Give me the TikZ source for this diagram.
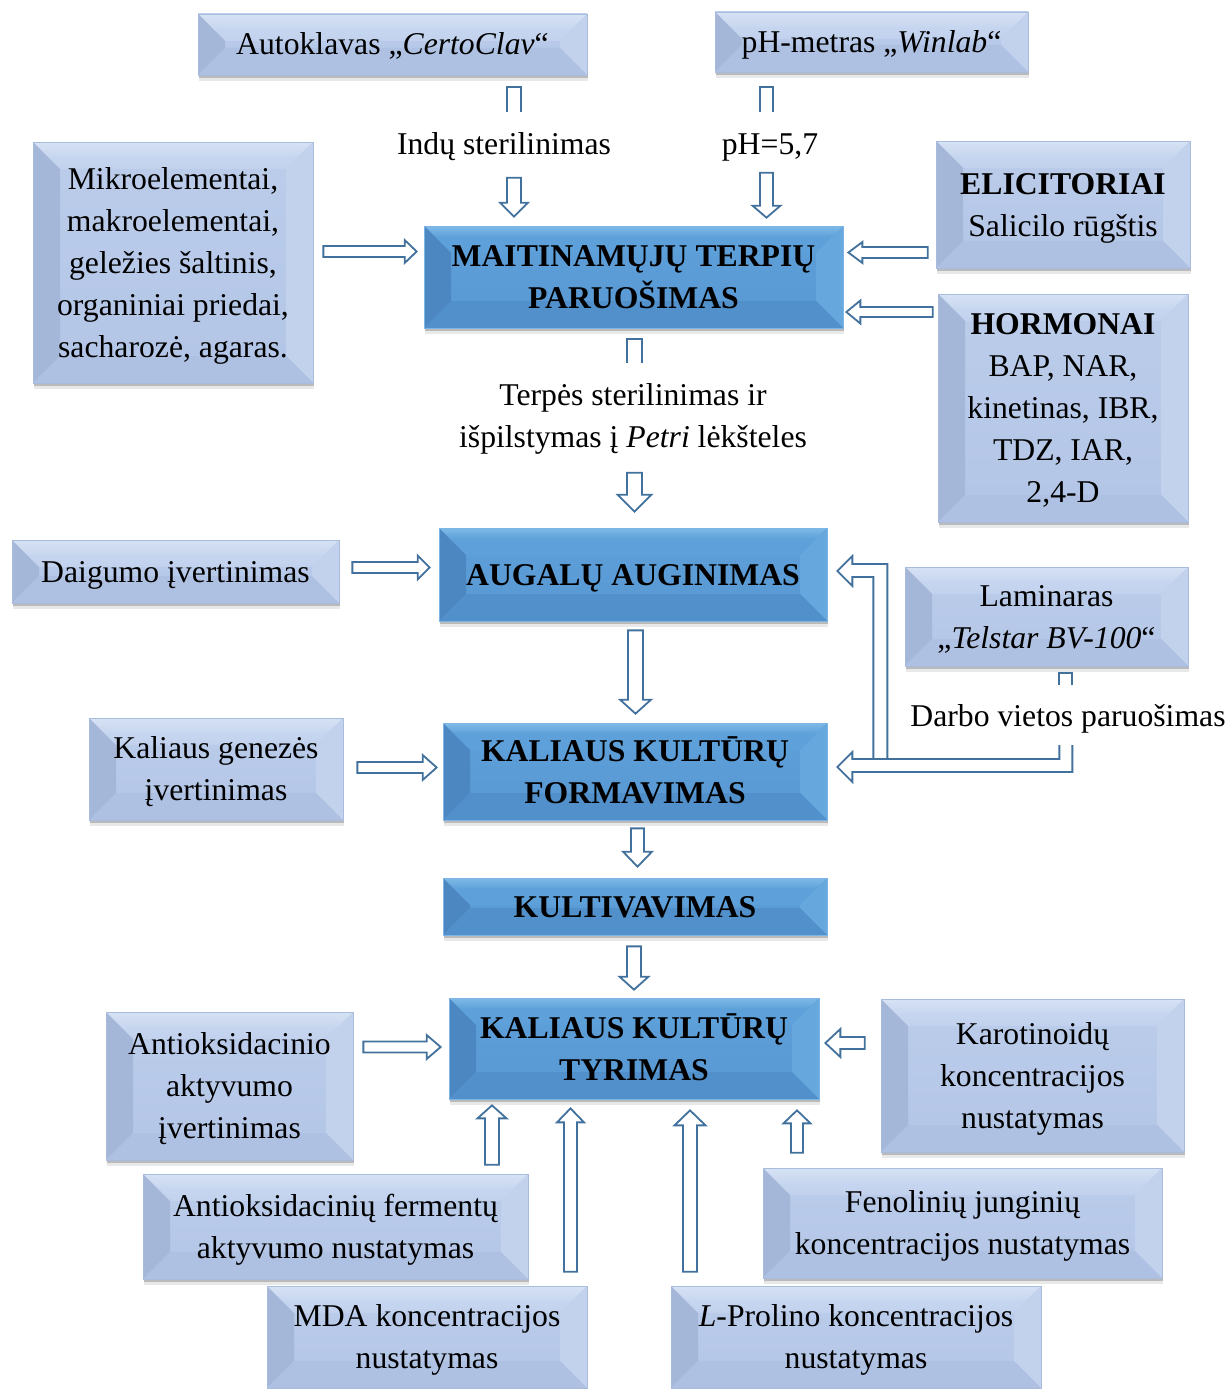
\documentclass[tikz,border=0pt]{standalone}
\usepackage{fontspec}
\setmainfont{Liberation Serif}
\usetikzlibrary{calc,shadows}

\definecolor{abl}{HTML}{41719C}
\definecolor{lbmidA}{HTML}{BCCDEB}
\definecolor{lbmidB}{HTML}{B3C5E6}
\definecolor{lbleft}{HTML}{A5B7D8}
\definecolor{lbtopA}{HTML}{E4ECF8}
\definecolor{lbtopB}{HTML}{C6D5EF}
\definecolor{lbright}{HTML}{C2D1EC}
\definecolor{lbbot}{HTML}{AFC1E2}
\definecolor{lbline}{HTML}{A9BCDD}
\definecolor{dbmidA}{HTML}{5EA0D9}
\definecolor{dbmidB}{HTML}{5898D3}
\definecolor{dbleft}{HTML}{4C87C2}
\definecolor{dbtopA}{HTML}{A6DBF8}
\definecolor{dbright}{HTML}{66A7DE}
\definecolor{dbbot}{HTML}{5190CB}
\definecolor{dbline}{HTML}{7DB6E6}

\pgfdeclareverticalshading{lbtopsh}{100bp}{color(0bp)=(lbmidA); color(45bp)=(lbtopB); color(100bp)=(lbtopA)}
\pgfdeclareverticalshading{dbtopsh}{100bp}{color(0bp)=(dbmidA); color(55bp)=(dbmidA); color(100bp)=(dbtopA)}

\def\bevsz{27}
\def\baw{7pt}
\def\baW{14pt}
\def\bah{13pt}
\newcommand\sx{\rule[-10.5pt]{0pt}{42pt}}

\newcommand\bevelpic[5]{%
  \coordinate (pa) at (path picture bounding box.north west);
  \coordinate (pb) at (path picture bounding box.north east);
  \coordinate (pc) at (path picture bounding box.south east);
  \coordinate (pd) at (path picture bounding box.south west);
  \shade[shading=#2] (pa) -- (pb) -- ($(pb)+(-\bevsz,-\bevsz)$) -- ($(pa)+(\bevsz,-\bevsz)$) -- cycle;
  \fill[#1] (pa) -- ($(pa)+(\bevsz,-\bevsz)$) -- ($(pd)+(\bevsz,\bevsz)$) -- (pd) -- cycle;
  \fill[#4] (pb) -- ($(pb)+(-\bevsz,-\bevsz)$) -- ($(pc)+(-\bevsz,\bevsz)$) -- (pc) -- cycle;
  \fill[#5] (pd) -- ($(pd)+(\bevsz,\bevsz)$) -- ($(pc)+(-\bevsz,\bevsz)$) -- (pc) -- cycle;
}

\newcommand\blockarr[3][]{%
  \coordinate (bas) at #2;
  \coordinate (bae) at #3;
  \path[barrow,#1] ($(bas)!\baw!90:(bae)$) -- ($(bae)!\bah!(bas)!\baw!90:(bae)$)
    -- ($(bae)!\bah!(bas)!\baW!90:(bae)$) -- (bae)
    -- ($(bae)!\bah!(bas)!\baW!-90:(bae)$) -- ($(bae)!\bah!(bas)!\baw!-90:(bae)$)
    -- ($(bas)!\baw!-90:(bae)$) -- cycle;}

\newcommand\blockstub[3][]{%
  \coordinate (bas) at #2;
  \coordinate (bae) at #3;
  \path[barrow,#1] ($(bae)!\baw!-90:(bas)$) -- ($(bas)!\baw!90:(bae)$)
    -- ($(bas)!\baw!-90:(bae)$) -- ($(bae)!\baw!90:(bas)$);}

\tikzset{
  shaftw/.code={\def\baw{#1pt}},
  headw/.code={\def\baW{#1pt}},
  headl/.code={\def\bah{#1pt}},
  barrow/.style={draw=abl, line width=1.8pt, fill=white, line join=miter},
  boxshadow/.style={general shadow={shadow yshift=-3pt, shadow xshift=0.5pt, opacity=.2, fill=black},
                    general shadow={shadow yshift=-6pt, shadow xshift=1pt, opacity=.09, fill=black}},
  lbox/.style={boxshadow, draw=lbline, line width=0.7pt, top color=lbmidA, bottom color=lbmidB,
    path picture={\bevelpic{lbleft}{lbtopsh}{}{lbright}{lbbot}}},
  dbox/.style={boxshadow, draw=dbline, line width=0.7pt, top color=dbmidA, bottom color=dbmidB,
    font=\fontsize{31.7}{42}\selectfont\bfseries,
    path picture={\bevelpic{dbleft}{dbtopsh}{}{dbright}{dbbot}}}
}

\begin{document}
\begin{tikzpicture}[x=1pt,y=1pt,
  every node/.style={font=\fontsize{31.7}{42}\selectfont, inner sep=0pt, align=center}]
\useasboundingbox (0,0) rectangle (1228,-1389);

% ---------- boxes ----------
\node[lbox, minimum width=389, minimum height=61] (autok) at (392.5,-44.5) {\sx Autoklavas „\textit{CertoClav}“\sx};
\node[lbox, minimum width=313, minimum height=60] (ph) at (871.5,-42) {\sx pH-metras „\textit{Winlab}“\sx};
\node[lbox, minimum width=280, minimum height=241] (mikro) at (173,-262.5)
  {\sx Mikroelementai,\\makroelementai,\\geležies šaltinis,\\organiniai priedai,\\sacharozė, agaras.\sx};
\node[dbox, minimum width=419, minimum height=102] (maitin) at (633.5,-277) {\sx MAITINAMŲJŲ TERPIŲ\\PARUOŠIMAS\sx};
\node[lbox, minimum width=254, minimum height=127] (elic) at (1063,-204.5) {\sx\textbf{ELICITORIAI}\\Salicilo rūgštis\sx};
\node[lbox, minimum width=250, minimum height=228] (horm) at (1063,-408)
  {\sx\textbf{HORMONAI}\\BAP, NAR,\\kinetinas, IBR,\\TDZ, IAR,\\2,4-D\sx};
\node[lbox, minimum width=327, minimum height=63] (daig) at (175.5,-571.5) {\sx Daigumo įvertinimas\sx};
\node[dbox, minimum width=388, minimum height=93] (augal) at (633,-574.5) {\sx AUGALŲ AUGINIMAS\sx};
\node[lbox, minimum width=283, minimum height=99] (lamin) at (1046.5,-616.5) {\sx Laminaras\\„\textit{Telstar BV-100}“\sx};
\node[lbox, minimum width=254, minimum height=102] (kgen) at (216,-769) {\sx Kaliaus genezės\\įvertinimas\sx};
\node[dbox, minimum width=384, minimum height=97] (kform) at (635,-771.5) {\sx KALIAUS KULTŪRŲ\\FORMAVIMAS\sx};
\node[dbox, minimum width=384, minimum height=57] (kult) at (635,-906.5) {\sx KULTIVAVIMAS\sx};
\node[dbox, minimum width=370, minimum height=101] (tyr) at (634,-1048.5) {\sx KALIAUS KULTŪRŲ\\TYRIMAS\sx};
\node[lbox, minimum width=247, minimum height=148] (antiox) at (229.5,-1086) {\sx Antioksidacinio\\aktyvumo\\įvertinimas\sx};
\node[lbox, minimum width=303, minimum height=153] (karot) at (1032.5,-1075.5) {\sx Karotinoidų\\koncentracijos\\nustatymas\sx};
\node[lbox, minimum width=385, minimum height=105] (ferm) at (335.5,-1226.5) {\sx Antioksidacinių fermentų\\aktyvumo nustatymas\sx};
\node[lbox, minimum width=399, minimum height=110] (fenol) at (962.5,-1223) {\sx Fenolinių junginių\\koncentracijos nustatymas\sx};
\node[lbox, minimum width=320, minimum height=102] (mda) at (427,-1337) {\sx MDA koncentracijos\\nustatymas\sx};
\node[lbox, minimum width=370, minimum height=102] (prol) at (856,-1337) {\sx\textit{L}-Prolino koncentracijos\\nustatymas\sx};

% ---------- labels ----------
\node (lsteril) at (504,-144) {\sx Indų sterilinimas\sx};
\node (lph) at (770,-144) {\sx pH=5,7\sx};
\node (lterp) at (633,-416) {\sx Terpės sterilinimas ir\\išpilstymas į \textit{Petri} lėkšteles\sx};
\node (ldarbo) at (1068,-716) {\sx Darbo vietos paruošimas\sx};

% ---------- connectors ----------
\blockstub{($(autok.south -| 514,0)+(0,-12)$)}{($(autok.south -| 514,0)+(0,-37)$)}
\blockarr[headl=14]{($(maitin.north -| 514,0)+(0,48)$)}{($(maitin.north -| 514,0)+(0,9)$)}
\blockstub[shaftw=6.5]{($(ph.south -| 766.5,0)+(0,-15)$)}{($(ph.south -| 766.5,0)+(0,-40)$)}
\blockarr[shaftw=6.5,headl=12]{($(maitin.north -| 766.5,0)+(0,53)$)}{($(maitin.north -| 766.5,0)+(0,8)$)}
\blockarr[shaftw=5.5,headw=11.5,headl=12]{($(mikro.east |- 0,-251.5)+(10,0)$)}{($(maitin.west |- 0,-251.5)+(-7,0)$)}
\blockarr[shaftw=5.5,headw=10.5,headl=14]{($(elic.west |- 0,-252.5)+(-8,0)$)}{($(maitin.east |- 0,-252.5)+(5,0)$)}
\blockarr[shaftw=5,headw=11.5,headl=14]{($(horm.west |- 0,-312)+(-5,0)$)}{($(maitin.east |- 0,-312)+(3,0)$)}
\blockstub[shaftw=7.5]{($(maitin.south -| 634.5,0)+(0,-11)$)}{($(maitin.south -| 634.5,0)+(0,-35)$)}
\blockarr[shaftw=7.5,headw=17,headl=17]{($(augal.north -| 634.5,0)+(0,55)$)}{($(augal.north -| 634.5,0)+(0,16)$)}
\blockarr[shaftw=5.5,headw=12,headl=12]{($(daig.east |- 0,-567.5)+(13,0)$)}{($(augal.west |- 0,-567.5)+(-9,0)$)}
\blockarr[shaftw=7.5,headw=15.5,headl=14]{($(augal.south -| 635.5,0)+(0,-9)$)}{($(kform.north -| 635.5,0)+(0,9)$)}
\blockarr[shaftw=5.5,headw=12.5,headl=14]{($(kgen.east |- 0,-767.5)+(14,0)$)}{($(kform.west |- 0,-767.5)+(-6,0)$)}
\blockarr[shaftw=6.5,headw=14.5,headl=15]{($(kform.south -| 637.5,0)+(0,-8)$)}{($(kult.north -| 637.5,0)+(0,11)$)}
\blockarr[shaftw=7,headw=14.5,headl=13]{($(kult.south -| 634,0)+(0,-11)$)}{($(tyr.north -| 634,0)+(0,8)$)}
\blockarr[shaftw=5.5,headw=12,headl=14]{($(antiox.east |- 0,-1047)+(10,0)$)}{($(tyr.west |- 0,-1047)+(-8,0)$)}
\blockarr[shaftw=6,headw=14,headl=15]{($(karot.west |- 0,-1043)+(-16,0)$)}{($(tyr.east |- 0,-1043)+(6,0)$)}
\blockarr[shaftw=7,headw=14.5,headl=13]{($(ferm.north -| 492,0)+(0,9)$)}{($(tyr.south -| 492,0)+(0,-6)$)}
\blockarr[shaftw=6.5,headw=13.5,headl=14]{($(mda.north -| 570.5,0)+(0,14)$)}{($(tyr.south -| 570.5,0)+(0,-9)$)}
\blockarr[shaftw=7,headw=15.5,headl=15]{($(prol.north -| 690,0)+(0,14)$)}{($(tyr.south -| 690,0)+(0,-11)$)}
\blockarr[shaftw=6,headw=13.5,headl=13]{($(fenol.north -| 797,0)+(0,15)$)}{($(tyr.south -| 797,0)+(0,-11)$)}

% laminaras -> augalu / kform (bent arrows)
\blockstub[shaftw=6.5]{($(lamin.south -| 1065.5,0)+(0,-7)$)}{($(lamin.south -| 1065.5,0)+(0,-19)$)}
\coordinate (T1) at ($(augal.east)+(10,3.5)$);
\coordinate (T2) at ($(kform.east)+(10,4.5)$);
\path[barrow] ($(T1)+(36,-188)$) -- ($(T1)+(36,-6)$) -- ($(T1)+(15,-6)$) -- ($(T1)+(15,-15)$)
  -- (T1) -- ($(T1)+(15,15)$) -- ($(T1)+(15,7)$) -- ($(T1)+(50,7)$) -- ($(T1)+(50,-188)$);
\path[barrow] ($(T2)+(222,22)$) -- ($(T2)+(222,8)$) -- ($(T2)+(15,8)$) -- ($(T2)+(15,15)$)
  -- (T2) -- ($(T2)+(15,-15)$) -- ($(T2)+(15,-5)$) -- ($(T2)+(235,-5)$) -- ($(T2)+(235,22)$);
\end{tikzpicture}
\end{document}
